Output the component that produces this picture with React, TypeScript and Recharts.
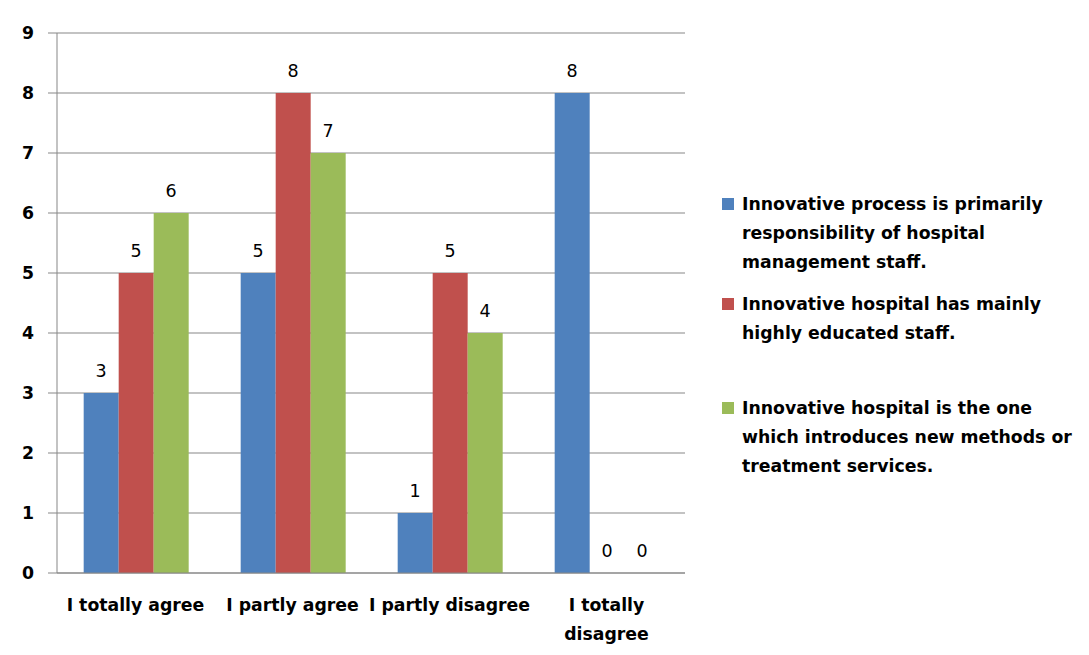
import React from "react";
import {
  BarChart,
  Bar,
  XAxis,
  YAxis,
  CartesianGrid,
  Legend,
  LabelList,
} from "recharts";

const categories = [
  "I totally agree",
  "I partly agree",
  "I partly disagree",
  "I totally disagree",
];
const managementStaff = [3, 5, 1, 8];
const educatedStaff = [5, 8, 5, 0];
const newMethods = [6, 7, 4, 0];
const seriesNames = [
  "Innovative process is primarily responsibility of hospital management staff.",
  "Innovative hospital has mainly highly educated staff.",
  "Innovative hospital is the one which introduces new methods or treatment services.",
];
const yTicks = [0, 1, 2, 3, 4, 5, 6, 7, 8, 9];
const edgeTicks = [0, 1, 2, 3, 4];

const data = categories.map((name, i) => ({
  name,
  a: managementStaff[i],
  b: educatedStaff[i],
  c: newMethods[i],
}));

const FONT = "'DejaVu Sans', sans-serif";
const GRID = "#878787";
const legendGaps = [0, 13, 46];

// greedy wrap, Excel broke the last label onto two lines
const wrapLabel = (text: string, max = 17) => {
  const lines: string[] = [];
  let cur = "";
  text.split(" ").forEach((w) => {
    const next = cur ? cur + " " + w : w;
    if (next.length > max && cur) {
      lines.push(cur);
      cur = w;
    } else cur = next;
  });
  if (cur) lines.push(cur);
  return lines;
};

const CategoryTick = ({ x, y, payload }: any) => {
  const lines = wrapLabel(String(payload.value));
  return (
    <text
      x={x}
      y={y + 38}
      textAnchor="middle"
      fill="#000"
      fontFamily={FONT}
      fontSize={17.3}
      fontWeight="bold"
    >
      {lines.map((l, i) => (
        <tspan key={i} x={x} dy={i === 0 ? 0 : 29}>
          {l}
        </tspan>
      ))}
    </text>
  );
};

const LegendContent = ({ payload }: any) => (
  <div style={{ fontFamily: FONT, fontSize: 17.3, fontWeight: "bold", color: "#000" }}>
    {(payload || []).map((entry: any, i: number) => (
      <div
        key={entry.value}
        style={{ display: "flex", alignItems: "flex-start", marginTop: legendGaps[i] }}
      >
        <span
          style={{
            width: 12,
            height: 12,
            marginTop: 8,
            marginRight: 8,
            background: entry.color,
            flex: "none",
          }}
        />
        <span style={{ width: 345, lineHeight: "29px" }}>{entry.value}</span>
      </div>
    ))}
  </div>
);

const labelStyle = { fill: "#000", fontFamily: FONT, fontSize: 17.5 };

const App = () => {
  return (
    <div
      style={{
        width: 1082,
        height: 648,
        marginLeft: -1,
        marginTop: -1,
        boxSizing: "border-box",
        borderTop: "1px solid #8c8c8c",
        borderLeft: "1px solid #8c8c8c",
        background: "#fff",
        overflow: "hidden",
      }}
    >
      <BarChart
        width={1081}
        height={640}
        data={data}
        margin={{ top: 25, right: 404, left: 0, bottom: 5 }}
        barCategoryGap="17%"
        barGap={0}
      >
        <CartesianGrid vertical={false} stroke={GRID} strokeWidth={1} />
        <XAxis
          xAxisId="edges"
          type="number"
          domain={[0, 4]}
          ticks={edgeTicks}
          allowDataOverflow
          height={0}
          tick={false}
          axisLine={false}
          tickLine={{ stroke: GRID }}
          tickSize={7}
        />
        <XAxis
          xAxisId="cat"
          dataKey="name"
          height={70}
          axisLine={{ stroke: GRID }}
          tickLine={false}
          tickSize={0}
          tickMargin={0}
          interval={0}
          tick={<CategoryTick />}
        />
        <YAxis
          width={49}
          domain={[0, 9]}
          ticks={yTicks}
          interval={0}
          axisLine={{ stroke: GRID }}
          tickLine={{ stroke: GRID }}
          tickSize={9}
          tickMargin={14}
          tick={{ fill: "#000", fontFamily: FONT, fontSize: 17.3, fontWeight: "bold" }}
        />
        <Legend
          layout="vertical"
          align="center"
          verticalAlign="middle"
          itemSorter="dataKey"
          content={<LegendContent />}
          wrapperStyle={{ left: 714, top: 182, width: 370 }}
        />
        <Bar xAxisId="cat" dataKey="a" name={seriesNames[0]} fill="#4F81BD" minPointSize={0.01} isAnimationActive={false}>
          <LabelList dataKey="a" position="top" offset={16} {...labelStyle} />
        </Bar>
        <Bar xAxisId="cat" dataKey="b" name={seriesNames[1]} fill="#C0504D" minPointSize={0.01} isAnimationActive={false}>
          <LabelList dataKey="b" position="top" offset={16} {...labelStyle} />
        </Bar>
        <Bar xAxisId="cat" dataKey="c" name={seriesNames[2]} fill="#9BBB59" minPointSize={0.01} isAnimationActive={false}>
          <LabelList dataKey="c" position="top" offset={16} {...labelStyle} />
        </Bar>
      </BarChart>
    </div>
  );
};

export default App;
